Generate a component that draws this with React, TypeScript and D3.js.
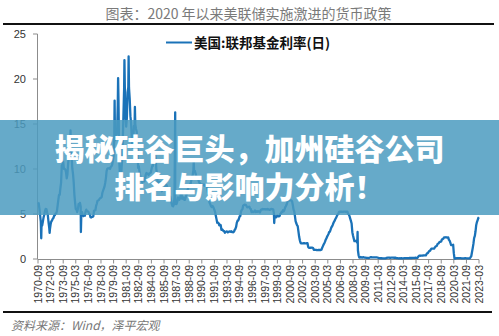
import React from "react";
import * as d3 from "d3";

// Monthly effective federal funds rate (%), starting 1970-09
const START_MONTH = "1970-09";
const FED_FUNDS_MONTHLY: number[] = [
  6.29, 6.2, 5.6, 4.9, // 1970 Sep-Dec
  4.14, 3.72, 3.71, 4.15, 4.63, 4.91, 5.31, 5.56, 5.55, 5.2, 4.91, 4.14, // 1971
  3.5, 3.29, 3.83, 4.17, 4.27, 4.46, 4.55, 4.8, 4.87, 5.04, 5.06, 5.33, // 1972
  5.94, 6.58, 7.09, 7.12, 7.84, 8.49, 10.4, 10.5, 10.78, 10.01, 10.03, 9.95, // 1973
  9.65, 8.97, 9.35, 10.51, 11.31, 11.93, 12.92, 12.01, 11.34, 10.06, 9.45, 8.53, // 1974
  7.13, 6.24, 5.54, 5.49, 5.22, 5.55, 6.1, 6.14, 6.24, 5.82, 5.22, 5.2, // 1975
  4.87, 4.77, 4.84, 4.82, 5.29, 5.48, 5.31, 5.29, 5.25, 5.02, 4.95, 4.65, // 1976
  4.61, 4.68, 4.69, 4.73, 5.35, 5.39, 5.42, 5.9, 6.14, 6.47, 6.51, 6.56, // 1977
  6.7, 6.78, 6.79, 6.89, 7.36, 7.6, 7.81, 8.04, 8.45, 8.96, 9.76, 10.03, // 1978
  10.07, 10.06, 10.09, 10.01, 10.24, 10.29, 10.47, 10.94, 11.43, 13.77, 13.18, 13.78, // 1979
  13.82, 14.13, 17.19, 17.61, 10.98, 9.47, 9.03, 9.61, 10.87, 12.81, 15.85, 18.9, // 1980
  19.08, 15.93, 14.7, 15.72, 18.52, 19.1, 19.04, 17.82, 15.87, 15.08, 13.31, 12.37, // 1981
  13.22, 14.78, 14.68, 14.94, 14.45, 14.15, 12.59, 10.12, 10.31, 9.71, 9.2, 8.95, // 1982
  8.68, 8.51, 8.77, 8.8, 8.63, 8.98, 9.37, 9.56, 9.45, 9.48, 9.34, 9.47, // 1983
  9.56, 9.59, 9.91, 10.29, 10.32, 11.06, 11.23, 11.64, 11.3, 9.99, 9.43, 8.38, // 1984
  8.35, 8.5, 8.58, 8.27, 7.97, 7.53, 7.88, 7.9, 7.92, 7.99, 8.05, 8.27, // 1985
  8.14, 7.86, 7.48, 6.99, 6.85, 6.92, 6.56, 6.17, 5.89, 5.85, 6.04, 6.91, // 1986
  6.43, 6.1, 6.13, 6.37, 6.85, 6.73, 6.58, 6.73, 7.22, 7.29, 6.69, 6.77, // 1987
  6.83, 6.58, 6.58, 6.87, 7.09, 7.51, 7.75, 8.01, 8.19, 8.3, 8.35, 8.76, // 1988
  9.12, 9.36, 9.85, 9.84, 9.81, 9.53, 9.24, 8.99, 9.02, 8.84, 8.55, 8.45, // 1989
  8.23, 8.24, 8.28, 8.26, 8.18, 8.29, 8.15, 8.13, 8.2, 8.11, 7.81, 7.31, // 1990
  6.91, 6.25, 6.12, 5.91, 5.78, 5.9, 5.82, 5.66, 5.45, 5.21, 4.81, 4.43, // 1991
  4.03, 4.06, 3.98, 3.73, 3.82, 3.76, 3.25, 3.3, 3.22, 3.1, 3.09, 2.92, // 1992
  3.02, 3.03, 3.07, 2.96, 3.0, 3.04, 3.06, 3.03, 3.09, 2.99, 3.02, 2.96, // 1993
  3.05, 3.25, 3.34, 3.56, 4.01, 4.25, 4.26, 4.47, 4.73, 4.76, 5.29, 5.45, // 1994
  5.53, 5.92, 5.98, 6.05, 6.01, 6.0, 5.85, 5.74, 5.8, 5.76, 5.8, 5.6, // 1995
  5.56, 5.22, 5.31, 5.22, 5.24, 5.27, 5.4, 5.22, 5.3, 5.24, 5.31, 5.29, // 1996
  5.25, 5.19, 5.39, 5.51, 5.5, 5.56, 5.52, 5.54, 5.54, 5.5, 5.52, 5.5, // 1997
  5.56, 5.51, 5.49, 5.45, 5.49, 5.56, 5.54, 5.55, 5.51, 5.07, 4.83, 4.68, // 1998
  4.63, 4.76, 4.81, 4.74, 4.74, 4.76, 4.99, 5.07, 5.22, 5.2, 5.42, 5.3, // 1999
  5.45, 5.73, 5.85, 6.02, 6.27, 6.53, 6.54, 6.5, 6.52, 6.51, 6.51, 6.4, // 2000
  5.98, 5.49, 5.31, 4.8, 4.21, 3.97, 3.77, 3.65, 3.07, 2.49, 2.09, 1.82, // 2001
  1.73, 1.74, 1.73, 1.75, 1.75, 1.75, 1.73, 1.74, 1.75, 1.75, 1.34, 1.24, // 2002
  1.24, 1.26, 1.25, 1.26, 1.26, 1.22, 1.01, 1.03, 1.01, 1.01, 1.0, 0.98, // 2003
  1.0, 1.01, 1.0, 1.0, 1.0, 1.03, 1.26, 1.43, 1.61, 1.76, 1.93, 2.16, // 2004
  2.28, 2.5, 2.63, 2.79, 3.0, 3.04, 3.26, 3.5, 3.62, 3.78, 4.0, 4.16, // 2005
  4.29, 4.49, 4.59, 4.79, 4.94, 4.99, 5.24, 5.25, 5.25, 5.25, 5.25, 5.24, // 2006
  5.25, 5.26, 5.26, 5.25, 5.25, 5.25, 5.26, 5.02, 4.94, 4.76, 4.49, 4.24, // 2007
  3.94, 2.98, 2.61, 2.28, 1.98, 2.0, 2.01, 2.0, 1.81, 0.97, 0.39, 0.16, // 2008
  0.15, 0.22, 0.18, 0.15, 0.18, 0.21, 0.16, 0.16, 0.15, 0.12, 0.12, 0.12, // 2009
  0.11, 0.13, 0.16, 0.2, 0.2, 0.18, 0.18, 0.19, 0.19, 0.19, 0.19, 0.18, // 2010
  0.17, 0.16, 0.14, 0.1, 0.09, 0.09, 0.07, 0.1, 0.08, 0.07, 0.08, 0.07, // 2011
  0.08, 0.1, 0.13, 0.14, 0.16, 0.16, 0.16, 0.13, 0.14, 0.16, 0.16, 0.16, // 2012
  0.14, 0.15, 0.14, 0.15, 0.11, 0.09, 0.09, 0.08, 0.08, 0.09, 0.08, 0.09, // 2013
  0.07, 0.07, 0.08, 0.09, 0.09, 0.1, 0.09, 0.09, 0.09, 0.09, 0.09, 0.12, // 2014
  0.11, 0.11, 0.11, 0.12, 0.12, 0.13, 0.13, 0.14, 0.14, 0.12, 0.12, 0.24, // 2015
  0.34, 0.38, 0.36, 0.37, 0.37, 0.38, 0.39, 0.4, 0.4, 0.4, 0.41, 0.54, // 2016
  0.65, 0.66, 0.79, 0.9, 0.91, 1.04, 1.15, 1.16, 1.15, 1.15, 1.16, 1.3, // 2017
  1.41, 1.42, 1.51, 1.69, 1.7, 1.82, 1.91, 1.91, 1.95, 2.19, 2.2, 2.27, // 2018
  2.4, 2.4, 2.41, 2.42, 2.39, 2.38, 2.4, 2.13, 2.04, 1.83, 1.55, 1.55, // 2019
  1.55, 1.58, 0.65, 0.05, 0.05, 0.08, 0.09, 0.1, 0.09, 0.09, 0.09, 0.09, // 2020
  0.09, 0.08, 0.07, 0.07, 0.06, 0.08, 0.1, 0.09, 0.08, 0.08, 0.08, 0.08, // 2021
  0.08, 0.08, 0.2, 0.33, 0.77, 1.21, 1.68, 2.33, 2.56, 3.08, 3.78, 4.1, // 2022
  4.33, 4.57, 4.65, // 2023 Jan-Mar
];

// Daily extremes visible in the picture (spikes / dips)
const DAILY_EXTREMES: [string, number][] = [
  ["1971-01-20", 2.3],
  ["1972-01-20", 2.9],
  ["1974-07-15", 14.3],
  ["1975-10-10", 3.0],
  ["1979-10-15", 17.6],
  ["1980-03-15", 20.1],
  ["1980-07-15", 7.9],
  ["1980-12-15", 22.1],
  ["1981-06-15", 22.5],
  ["1982-03-15", 16.9],
  ["1986-12-31", 16.3],
  ["1989-03-15", 10.8],
  ["1998-10-15", 4.0],
  ["2000-06-15", 7.1],
  ["2008-09-16", 3.0],
];

const X_LABELS: string[] = [
  "1970-09", "1972-03", "1973-09", "1975-03", "1976-09", "1978-03",
  "1979-09", "1981-03", "1982-09", "1984-03", "1985-09", "1987-03",
  "1988-09", "1990-03", "1991-09", "1993-03", "1994-09", "1996-03",
  "1997-09", "1999-03", "2000-09", "2002-03", "2003-09", "2005-03",
  "2006-09", "2008-03", "2009-09", "2011-03", "2012-09", "2014-03",
  "2015-09", "2017-03", "2018-09", "2020-03", "2021-09", "2023-03",
];
const Y_TICKS: number[] = [0, 5, 10, 15, 20, 25];

const TITLE = "图表：2020 年以来美联储实施激进的货币政策";
const LEGEND = "美国:联邦基金利率(日)";
const SOURCE = "资料来源：Wind，泽平宏观";
const BANNER_LINES = ["揭秘硅谷巨头，加州硅谷公司", "排名与影响力分析！"];

const W = 499;
const H = 336;
const LINE_COLOR = "#1a72b8";

export default function App() {
  const parseMonth = d3.timeParse("%Y-%m");
  const parseDay = d3.timeParse("%Y-%m-%d");
  const start = parseMonth(START_MONTH) as Date;

  const monthly = FED_FUNDS_MONTHLY.map((v, i) => ({
    date: d3.timeMonth.offset(start, i),
    value: v,
  }));
  const extremes = DAILY_EXTREMES.map(([d, v]) => ({
    date: parseDay(d) as Date,
    value: v,
  }));
  const series = [...monthly, ...extremes].sort(
    (a, b) => a.date.getTime() - b.date.getTime()
  );

  const labelDates = X_LABELS.map((s) => parseMonth(s) as Date);

  const x = d3
    .scaleTime()
    .domain([labelDates[0], labelDates[labelDates.length - 1]])
    .range([38, 479]);
  const y = d3.scaleLinear().domain([0, 25]).range([259, 34]);

  const line = d3
    .line<{ date: Date; value: number }>()
    .x((d) => x(d.date))
    .y((d) => y(d.value));

  const axisColor = "#8c8c8c";
  const sans = "'Liberation Sans', Arial, sans-serif";
  const cjk = "'Noto Sans CJK SC', 'Noto Sans', sans-serif";

  return (
    <svg
      width={W}
      height={H}
      viewBox={`0 0 ${W} ${H}`}
      style={{ position: "absolute", left: 0, top: 0, background: "#fff" }}
    >
      <rect x={0} y={0} width={W} height={H} fill="#fff" />
      {/* title */}
      <text
        x={248.5}
        y={19}
        textAnchor="middle"
        fontFamily={cjk}
        fontSize={14}
        fill="#7a7a7a"
      >
        {TITLE}
      </text>
      <line x1={3} x2={494} y1={24} y2={24} stroke="#111" strokeWidth={2} />

      {/* legend */}
      <line x1={166} x2={192} y1={42.5} y2={42.5} stroke={LINE_COLOR} strokeWidth={2} />
      <text x={194} y={47.5} fontFamily={cjk} fontWeight={700} fontSize={13.5} fill="#111">
        {LEGEND}
      </text>

      {/* y axis */}
      <line x1={37.5} x2={37.5} y1={y(25)} y2={y(0)} stroke={axisColor} strokeWidth={1} />
      {Y_TICKS.map((t) => (
        <g key={t}>
          <line x1={33} x2={37.5} y1={y(t)} y2={y(t)} stroke={axisColor} strokeWidth={1} />
          <text
            x={26}
            y={y(t)}
            dy="0.35em"
            textAnchor="end"
            fontFamily={sans}
            fontSize={11}
            fill="#333"
          >
            {t}
          </text>
        </g>
      ))}

      {/* x axis */}
      <line x1={37.5} x2={x(labelDates[labelDates.length - 1])} y1={259.5} y2={259.5} stroke={axisColor} strokeWidth={1} />
      {labelDates.map((d, i) => {
        const px = x(d);
        return (
          <g key={X_LABELS[i]}>
            <line x1={px} x2={px} y1={259.5} y2={263.5} stroke={axisColor} strokeWidth={1} />
            <text
              transform={`translate(${px},265) rotate(-90)`}
              dy="0.35em"
              textAnchor="end"
              fontFamily={sans}
              fontSize={10.5}
              fill="#333"
            >
              {X_LABELS[i]}
            </text>
          </g>
        );
      })}

      {/* series */}
      <path
        d={line(series) || ""}
        fill="none"
        stroke={LINE_COLOR}
        strokeWidth={2.3}
        strokeLinejoin="round"
      />

      {/* bottom rule and source */}
      <line x1={3} x2={492} y1={312} y2={312} stroke="#111" strokeWidth={2} />
      <text
        x={11}
        y={330}
        fontFamily={cjk}
        fontStyle="italic"
        fontSize={12}
        fill="#777"
      >
        {SOURCE}
      </text>

      {/* overlay banner */}
      <rect x={0} y={120} width={W} height={95} fill="rgb(75,155,192)" fillOpacity={0.85} />
      {BANNER_LINES.map((t, i) => (
        <text
          key={t}
          x={249.5}
          y={159.5 + i * 38.5}
          textAnchor="middle"
          fontFamily={cjk}
          fontWeight={900}
          fontSize={30}
          fill="#fff"
        >
          {t}
        </text>
      ))}
    </svg>
  );
}
